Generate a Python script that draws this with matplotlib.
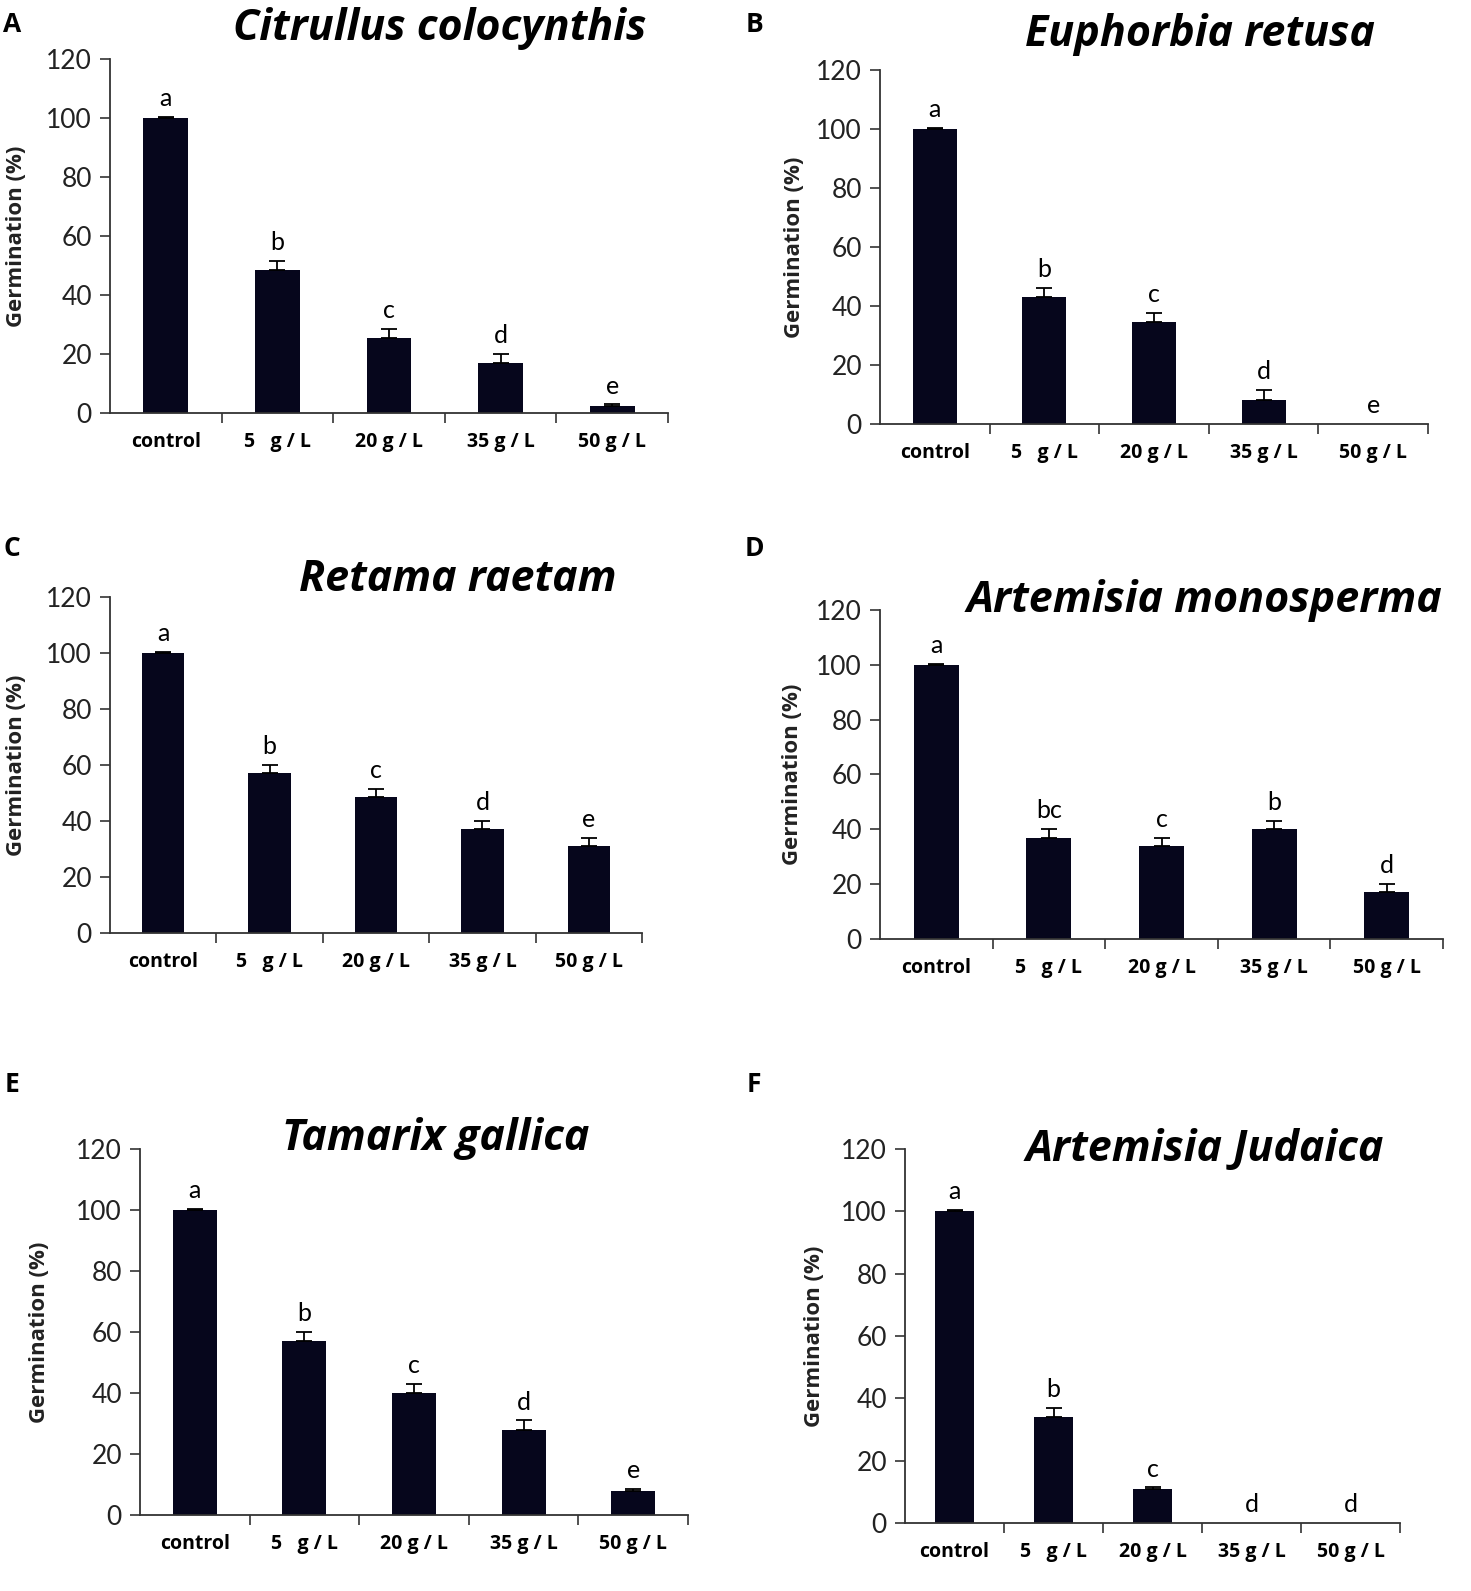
import numpy as np
import matplotlib
matplotlib.use("Agg")
import matplotlib.pyplot as plt

# data
categories = ["control", "5   g / L", "20 g / L", "35 g / L", "50 g / L"]
species = ["Citrullus colocynthis", "Euphorbia retusa", "Retama raetam",
           "Artemisia monosperma", "Tamarix gallica", "Artemisia Judaica"]
panel_tags = ["A", "B", "C", "D", "E", "F"]

citrullus = [100, 48.5, 25.5, 17, 2.5]
citrullus_err = [0.3, 3, 3, 3, 0.4]
citrullus_sig = ["a", "b", "c", "d", "e"]

euphorbia = [100, 43, 34.5, 8, 0]
euphorbia_err = [0.3, 3, 3, 3.5, 0]
euphorbia_sig = ["a", "b", "c", "d", "e"]

retama = [100, 57, 48.5, 37, 31]
retama_err = [0.3, 3, 3, 3, 3]
retama_sig = ["a", "b", "c", "d", "e"]

monosperma = [100, 37, 34, 40, 17]
monosperma_err = [0.3, 3, 3, 3, 3]
monosperma_sig = ["a", "bc", "c", "b", "d"]

tamarix = [100, 57, 40, 28, 8]
tamarix_err = [0.3, 3, 3, 3, 0.4]
tamarix_sig = ["a", "b", "c", "d", "e"]

judaica = [100, 34, 11, 0, 0]
judaica_err = [0.3, 3, 0.4, 0, 0]
judaica_sig = ["a", "b", "c", "d", "d"]

values = [citrullus, euphorbia, retama, monosperma, tamarix, judaica]
errors = [citrullus_err, euphorbia_err, retama_err, monosperma_err, tamarix_err, judaica_err]
sigs = [citrullus_sig, euphorbia_sig, retama_sig, monosperma_sig, tamarix_sig, judaica_sig]

W, H = 1471, 1591
fig = plt.figure(figsize=(W / 100, H / 100), dpi=100)

# axes boxes in pixels: left, right, y of 0, y of 120
boxes = [(110, 668, 413, 59), (880, 1428, 424, 70),
         (110, 642, 933, 597), (880, 1443, 939, 610),
         (140, 688, 1515, 1149), (905, 1400, 1523, 1149)]
# title centres (px)
title_pos = [(440, 28), (1200, 35), (458, 580), (1204, 600), (436, 1138), (1205, 1150)]
tag_pos = [(12, 25), (754, 25), (12, 548), (754, 548), (12, 1085), (754, 1085)]
ylab_x = [17, 795, 17, 793, 40, 815]

bar_color = "#06061c"
tick_font = ["Liberation Sans Narrow", "Lato", "DejaVu Sans"]
label_font = ["Open Sans", "DejaVu Sans"]

x = np.arange(len(categories))
for i in range(6):
    l, r, y0, y1 = boxes[i]
    ax = fig.add_axes([l / W, 1 - y0 / H, (r - l) / W, (y0 - y1) / H])
    vals = np.array(values[i], dtype=float)
    err = np.array(errors[i], dtype=float)
    ax.bar(x, vals, width=0.4, color=bar_color, zorder=2)
    has = vals > 0
    ax.errorbar(x[has], vals[has], yerr=[np.zeros(has.sum()), err[has]], fmt="none",
                ecolor="black", elinewidth=1.3, capsize=6, capthick=1.3, zorder=3)
    for xi, v, e, s in zip(x, vals, err, sigs[i]):
        ax.annotate(s, (xi, v + e), xytext=(0, 5), textcoords="offset points",
                    ha="center", va="bottom", fontsize=18, family=tick_font)
    ax.set_xlim(-0.5, 4.5)
    ax.set_ylim(0, 120)
    ax.set_yticks(np.arange(0, 121, 20))
    ax.set_xticks(x + 0.5)
    ax.set_xticklabels([])
    ax.set_xticks(x, minor=True)
    ax.set_xticklabels(categories, minor=True, fontsize=14, fontweight="bold",
                       family=label_font)
    ax.tick_params(axis="x", which="major", direction="out", length=7, width=1.2, color="#333333")
    ax.tick_params(axis="x", which="minor", length=0, pad=14)
    ax.tick_params(axis="y", direction="out", length=7, width=1.2, color="#333333",
                   labelsize=19, pad=6)
    for lab in ax.get_yticklabels():
        lab.set_family(tick_font)
        lab.set_color("#222222")
    for sp in ["top", "right"]:
        ax.spines[sp].set_visible(False)
    for sp in ["left", "bottom"]:
        ax.spines[sp].set_linewidth(1.3)
        ax.spines[sp].set_color("#333333")

    fig.text(ylab_x[i] / W, 1 - (y0 + y1) / 2 / H, "Germination (%)", rotation=90,
             ha="center", va="center", fontsize=16, fontweight="bold", family=label_font,
             color="#222222")
    tx, ty = title_pos[i]
    fig.text(tx / W, 1 - ty / H, species[i], ha="center", va="center", fontsize=31,
             fontweight="bold", style="italic", family=label_font)
    gx, gy = tag_pos[i]
    fig.text(gx / W, 1 - gy / H, panel_tags[i], ha="center", va="center", fontsize=19,
             fontweight="bold", family=label_font)

fig.savefig("out.png", dpi=100, facecolor="white")
